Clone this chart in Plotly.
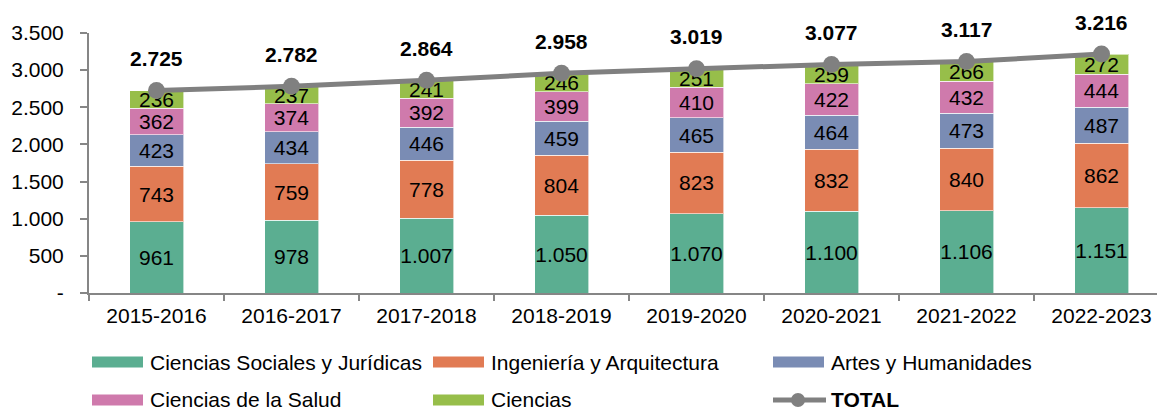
import plotly.graph_objects as go

# DATA
cursos = ["2015-2016", "2016-2017", "2017-2018", "2018-2019",
          "2019-2020", "2020-2021", "2021-2022", "2022-2023"]
sociales_juridicas = [961, 978, 1007, 1050, 1070, 1100, 1106, 1151]
ingenieria_arq = [743, 759, 778, 804, 823, 832, 840, 862]
artes_humanidades = [423, 434, 446, 459, 465, 464, 473, 487]
ciencias_salud = [362, 374, 392, 399, 410, 422, 432, 444]
ciencias = [236, 237, 241, 246, 251, 259, 266, 272]
total = [2725, 2782, 2864, 2958, 3019, 3077, 3117, 3216]
ytick_vals = [0, 500, 1000, 1500, 2000, 2500, 3000, 3500]
ytick_text = ["-", "500", "1.000", "1.500", "2.000", "2.500", "3.000", "3.500"]

FONT = "Liberation Sans, Arial, sans-serif"
FS = 21

series = [
    ("Ciencias Sociales y Jurídicas", sociales_juridicas, "#5BAE91"),
    ("Ingeniería y Arquitectura", ingenieria_arq, "#E17B54"),
    ("Artes y Humanidades", artes_humanidades, "#7A8CB4"),
    ("Ciencias de la Salud", ciencias_salud, "#CF7AAC"),
    ("Ciencias", ciencias, "#97BE4A"),
]

def fmt(v):
    return f"{v:,}".replace(",", ".")

fig = go.Figure()

for name, vals, col in series:
    fig.add_trace(go.Bar(
        x=cursos, y=vals, name=name, width=0.4,
        marker=dict(color=col, line=dict(color="rgba(255,255,255,0.6)", width=1)),
        text=[fmt(v) for v in vals], textposition="inside", textangle=0,
        insidetextanchor="middle", constraintext="none",
        textfont=dict(family=FONT, size=FS, color="black"),
        showlegend=False,
    ))

fig.add_trace(go.Scatter(
    x=cursos, y=total, name="TOTAL", mode="lines+markers",
    line=dict(color="#808080", width=5),
    marker=dict(color="#808080", size=17),
    showlegend=False,
))

for c, v in zip(cursos, total):
    fig.add_annotation(x=c, y=v, text="<b>" + fmt(v) + "</b>", showarrow=False,
                       yshift=32, font=dict(family=FONT, size=FS, color="black"))

# LEGEND (drawn by hand, to get the wide colour bars)
L, B, W, H = 89, 293, 1068, 260
def px(x):
    return (x - L) / W
def py(y):
    return (B - y) / H

cols = [92, 433, 773]
rows = [362, 400]
items = [(n, col) for n, _, col in series] + [("TOTAL", "#808080")]
for i, (name, col) in enumerate(items):
    x0 = cols[i % 3]
    yc = rows[i // 3]
    if name == "TOTAL":
        fig.add_shape(type="line", xref="paper", yref="paper",
                      x0=px(x0), x1=px(x0 + 53), y0=py(yc), y1=py(yc),
                      line=dict(color=col, width=5))
        fig.add_shape(type="circle", xref="paper", yref="paper",
                      x0=px(x0 + 18), x1=px(x0 + 32), y0=py(yc + 7), y1=py(yc - 7),
                      fillcolor=col, line=dict(color=col, width=0))
        label = "<b>TOTAL</b>"
    else:
        fig.add_shape(type="rect", xref="paper", yref="paper",
                      x0=px(x0), x1=px(x0 + 51), y0=py(yc + 5.5), y1=py(yc - 5.5),
                      fillcolor=col, line=dict(width=0))
        label = name
    fig.add_annotation(xref="paper", yref="paper", x=px(x0 + 56), y=py(yc),
                       xanchor="left", yanchor="middle", text=label, showarrow=False,
                       font=dict(family=FONT, size=FS, color="black"))

fig.update_layout(
    width=1157, height=410,
    margin=dict(l=L, r=0, t=33, b=117),
    barmode="stack",
    plot_bgcolor="white", paper_bgcolor="white",
    font=dict(family=FONT, size=FS, color="black"),
    uniformtext=dict(mode="show", minsize=FS),
    showlegend=False,
)
fig.update_xaxes(
    range=[-0.5, -0.5 + W / 135], showline=True, linecolor="#868686", linewidth=2,
    ticks="outside", tickson="boundaries", ticklen=6, tickcolor="#868686", tickwidth=2,
    ticklabelstandoff=3, showgrid=False, tickfont=dict(family=FONT, size=FS, color="black"),
)
fig.update_yaxes(
    range=[0, 3500], tickvals=ytick_vals, ticktext=ytick_text,
    showline=True, linecolor="#868686", linewidth=2,
    ticks="outside", ticklen=7, tickcolor="#868686", tickwidth=2,
    ticklabelstandoff=12, showgrid=False, zeroline=False,
    tickfont=dict(family=FONT, size=FS, color="black"),
)

fig.write_html("out.html", config={"displayModeBar": False},
               post_script="document.body.style.margin='0px';")
